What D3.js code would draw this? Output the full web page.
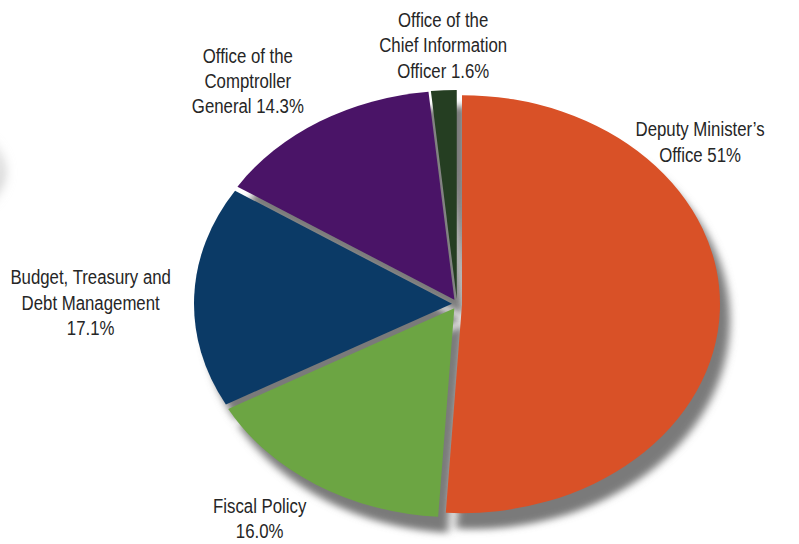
<!DOCTYPE html>
<html>
<head>
<meta charset="utf-8">
<script src="https://cdn.jsdelivr.net/npm/d3@7/dist/d3.min.js"></script>
<style>
  html, body { margin: 0; padding: 0; background: #ffffff; }
  svg { display: block; }
  text { font-family: "Liberation Sans", Arial, sans-serif; }
</style>
</head>
<body>
<svg id="chart" width="799" height="544"></svg>
<script>
// Branch shares of the departmental budget (percent)
const categories = [
  "Deputy Minister’s Office",
  "Fiscal Policy",
  "Budget, Treasury and Debt Management",
  "Office of the Comptroller General",
  "Office of the Chief Information Officer"
];
const shareText = ["51", "16.0", "17.1", "14.3", "1.6"];
const shares = shareText.map(Number);
// Label text broken into lines; the share is appended to the last line
const labelLines = [
  ["Deputy Minister’s", "Office"],
  ["Fiscal Policy", ""],
  ["Budget, Treasury and", "Debt Management", ""],
  ["Office of the", "Comptroller", "General"],
  ["Office of the", "Chief Information", "Officer"]
];
const colors = ["#D95127", "#6CA543", "#0B3A66", "#4A1467", "#253E22"];

const W = 799, H = 544;
const cx = 457, cy = 304;      // pie centre
const rx = 258, ry = 209;      // pie is drawn squashed vertically
const explode = 5;             // outward offset of each slice
const lineH = 25.5;
const fontSize = 21;
const narrow = 0.8;            // condensed lettering

// label placement: radial distance (in pie radii) and angle nudge (radians)
const labelRadius = [1.22, 1.28, 1.42, 1.34, 1.24];
const labelNudge  = [-0.72, 0.075, -0.03, -0.1, 0.007];

const svg = d3.select("#chart");
const defs = svg.append("defs");

const shadow = defs.append("filter").attr("id", "shadow")
  .attr("x", "-20%").attr("y", "-20%").attr("width", "140%").attr("height", "140%");
shadow.append("feGaussianBlur").attr("in", "SourceGraphic").attr("stdDeviation", 4.5);

const soft = defs.append("filter").attr("id", "soft")
  .attr("x", "-50%").attr("y", "-50%").attr("width", "200%").attr("height", "200%");
soft.append("feGaussianBlur").attr("in", "SourceGraphic").attr("stdDeviation", 6);

// faint shadow edge of a neighbouring graphic at the left border
svg.append("ellipse")
  .attr("cx", -300).attr("cy", 172).attr("rx", 304).attr("ry", 95)
  .attr("fill", "#c4c4c4").attr("filter", "url(#soft)");
svg.append("ellipse")
  .attr("cx", -306).attr("cy", 168).attr("rx", 304).attr("ry", 95)
  .attr("fill", "#ffffff").attr("filter", "url(#soft)");

const pie = d3.pie().value(d => d).sort(null);
const arcs = pie(shares);
const arc = d3.arc().innerRadius(0).outerRadius(rx);

const sy = ry / rx;
const g = svg.append("g");

function offset(d) {
  const a = (d.startAngle + d.endAngle) / 2;
  return [Math.sin(a) * explode, -Math.cos(a) * explode / sy];
}

// drop shadows (drawn under all slices)
g.selectAll("path.shadow")
  .data(arcs)
  .join("path")
  .attr("class", "shadow")
  .attr("d", arc)
  .attr("fill", "#7a7a7a")
  .attr("transform", d => {
    const [ox, oy] = offset(d);
    return `translate(${cx + 10},${cy + 16}) scale(1,${sy}) translate(${ox},${oy})`;
  })
  .attr("filter", "url(#shadow)");

// slices
g.selectAll("path.slice")
  .data(arcs)
  .join("path")
  .attr("class", "slice")
  .attr("d", arc)
  .attr("fill", (d, i) => colors[i])
  .attr("transform", d => {
    const [ox, oy] = offset(d);
    return `translate(${cx},${cy}) scale(1,${sy}) translate(${ox},${oy})`;
  });

// labels
const labels = svg.append("g")
  .attr("font-size", fontSize)
  .attr("fill", "#262626")
  .attr("text-anchor", "middle");

arcs.forEach((d, i) => {
  const a = (d.startAngle + d.endAngle) / 2 + labelNudge[i];
  const lx = cx + Math.sin(a) * rx * labelRadius[i];
  const ly = cy - Math.cos(a) * ry * labelRadius[i];
  const lines = labelLines[i].slice();
  const last = lines.length - 1;
  lines[last] = (lines[last] ? lines[last] + " " : "") + shareText[i] + "%";
  const t = labels.append("g")
    .attr("transform", `translate(${lx},${ly - (lines.length - 1) * lineH / 2 + 7}) scale(${narrow},1)`)
    .append("text").attr("x", 0).attr("y", 0);
  lines.forEach((s, k) => {
    t.append("tspan").attr("x", 0).attr("dy", k === 0 ? 0 : lineH).text(s);
  });
});
</script>
</body>
</html>
